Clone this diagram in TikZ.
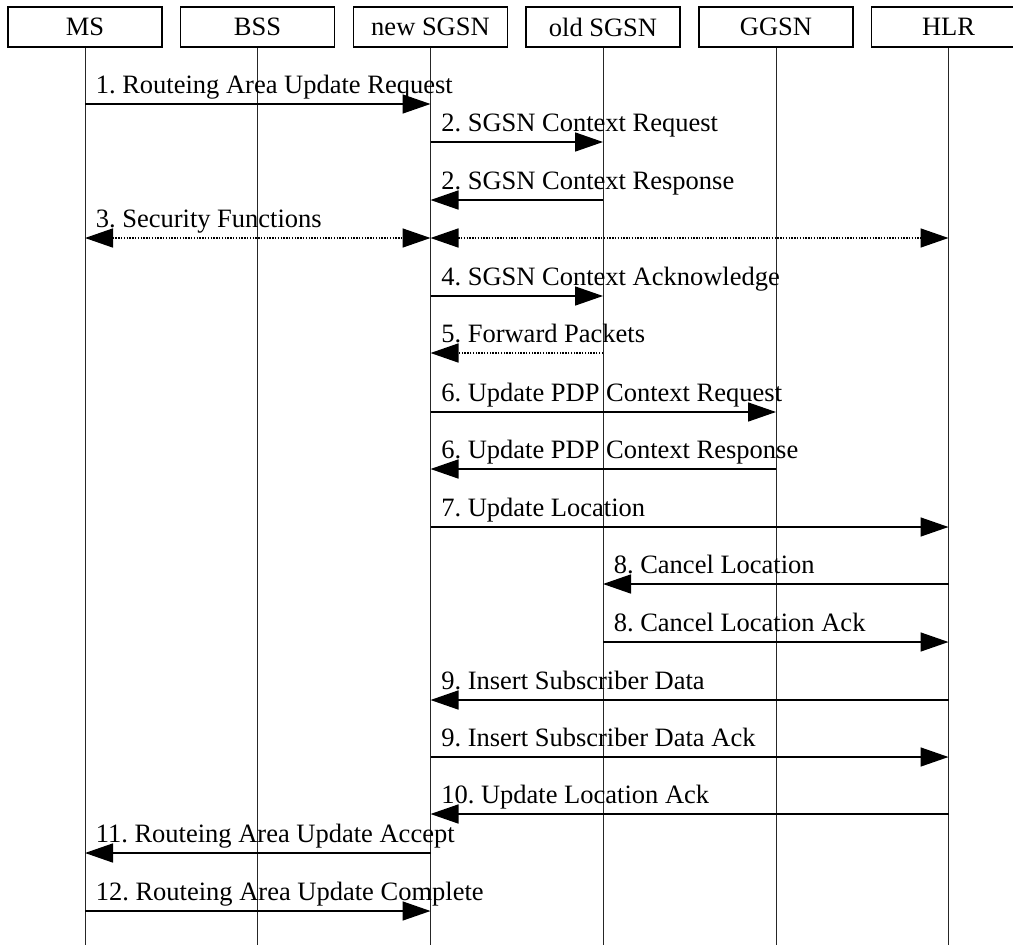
\documentclass[tikz,border=0pt]{standalone}
\usepackage{fontspec}
\setmainfont{Liberation Serif}
\frenchspacing
\usetikzlibrary{arrows.meta}

\begin{document}
\begin{tikzpicture}[
            x=1pt, y=-1pt,
            mtip/.tip={Triangle[length=28pt,width=19pt]},
            entity/.style={draw, line width=1.5pt, minimum width=154pt, minimum height=40pt, inner sep=0pt, font=\fontsize{26.5}{30}\selectfont},
            life/.style={line width=1pt, black!85},
            msg/.style={line width=1.6pt, -mtip},
            both/.style={line width=1.6pt, mtip-mtip},
            dots/.style={dash pattern=on 1.4pt off 1.4pt},
            lbl/.style={anchor=base west, xshift=10pt, yshift=11pt, inner sep=0pt, font=\fontsize{26.5}{30}\selectfont}
        ]
        \clip (0,0) rectangle (1013,945);

        \node[entity] (MS) at (85,27) {MS};
        \node[entity] (BSS) at (257.5,27) {BSS};
        \node[entity] (NSGSN) at (430.5,27) {new SGSN};
        \node[entity] (OSGSN) at (603,27) {old SGSN};
        \node[entity] (GGSN) at (776,27) {GGSN};
        \node[entity] (HLR) at (948.5,27) {HLR};

        \draw[life] (MS.south) -- (MS.south |- 0,945);
        \draw[life] (BSS.south) -- (BSS.south |- 0,945);
        \draw[life] (NSGSN.south) -- (NSGSN.south |- 0,945);
        \draw[life] (OSGSN.south) -- (OSGSN.south |- 0,945);
        \draw[life] (GGSN.south) -- (GGSN.south |- 0,945);
        \draw[life] (HLR.south) -- (HLR.south |- 0,945);

        \draw[msg] (MS |- 0,104) -- node[lbl, pos=0] {1. Routeing Area Update Request} (NSGSN |- 0,104);
        \draw[msg] (NSGSN |- 0,142) -- node[lbl, pos=0] {2. SGSN Context Request} (OSGSN |- 0,142);
        \draw[msg] (OSGSN |- 0,200) -- node[lbl, pos=1] {2. SGSN Context Response} (NSGSN |- 0,200);
        \draw[both, dots] (MS |- 0,238) -- node[lbl, pos=0] {3. Security Functions} (NSGSN |- 0,238);
        \draw[both, dots] (NSGSN |- 0,238) -- (HLR |- 0,238);
        \draw[msg] (NSGSN |- 0,296) -- node[lbl, pos=0] {4. SGSN Context Acknowledge} (OSGSN |- 0,296);
        \draw[msg, dots] (OSGSN |- 0,353) -- node[lbl, pos=1] {5. Forward Packets} (NSGSN |- 0,353);
        \draw[msg] (NSGSN |- 0,412) -- node[lbl, pos=0] {6. Update PDP Context Request} (GGSN |- 0,412);
        \draw[msg] (GGSN |- 0,469) -- node[lbl, pos=1] {6. Update PDP Context Response} (NSGSN |- 0,469);
        \draw[msg] (NSGSN |- 0,527) -- node[lbl, pos=0] {7. Update Location} (HLR |- 0,527);
        \draw[msg] (HLR |- 0,584) -- node[lbl, pos=1] {8. Cancel Location} (OSGSN |- 0,584);
        \draw[msg] (OSGSN |- 0,642) -- node[lbl, pos=0] {8. Cancel Location Ack} (HLR |- 0,642);
        \draw[msg] (HLR |- 0,700) -- node[lbl, pos=1] {9. Insert Subscriber Data} (NSGSN |- 0,700);
        \draw[msg] (NSGSN |- 0,757) -- node[lbl, pos=0] {9. Insert Subscriber Data Ack} (HLR |- 0,757);
        \draw[msg] (HLR |- 0,814) -- node[lbl, pos=1] {10. Update Location Ack} (NSGSN |- 0,814);
        \draw[msg] (NSGSN |- 0,853) -- node[lbl, pos=1] {11. Routeing Area Update Accept} (MS |- 0,853);
        \draw[msg] (MS |- 0,911) -- node[lbl, pos=0] {12. Routeing Area Update Complete} (NSGSN |- 0,911);
    \end{tikzpicture}
\end{document}
